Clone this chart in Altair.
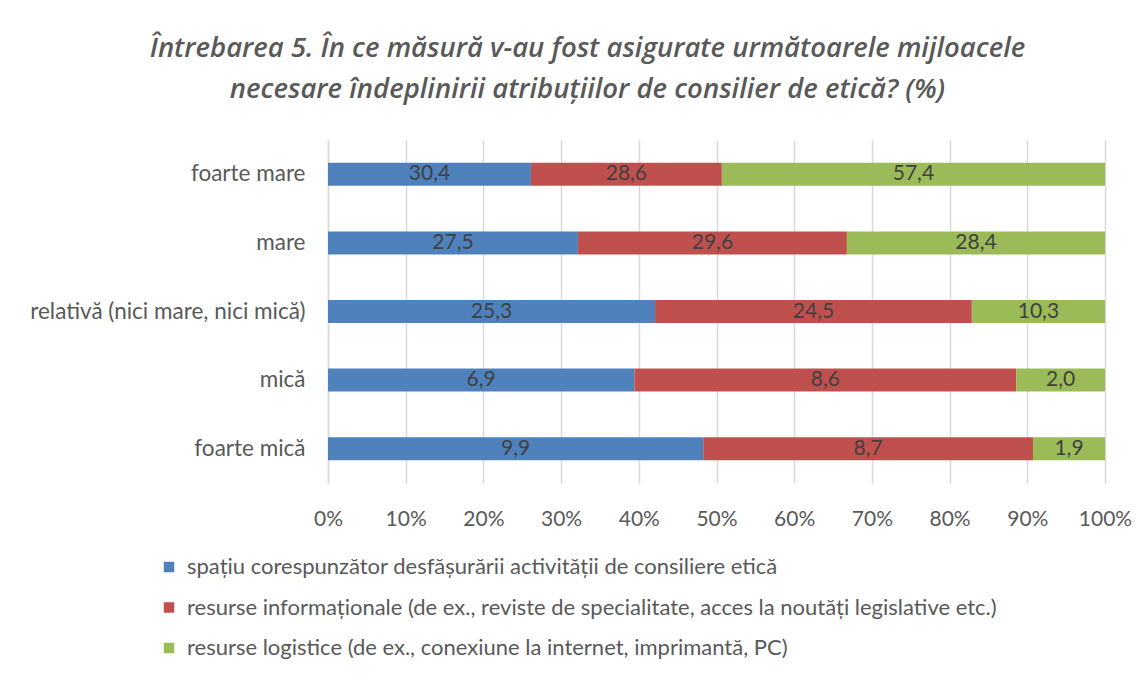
import altair as alt
import pandas as pd

categories = ["foarte mare", "mare", "relativă (nici mare, nici mică)", "mică", "foarte mică"]
series = [
    "spațiu corespunzător desfășurării activității de consiliere etică",
    "resurse informaționale (de ex., reviste de specialitate, acces la noutăți legislative etc.)",
    "resurse logistice (de ex., conexiune la internet, imprimantă, PC)",
]
spatiu = [30.4, 27.5, 25.3, 6.9, 9.9]
informationale = [28.6, 29.6, 24.5, 8.6, 8.7]
logistice = [57.4, 28.4, 10.3, 2.0, 1.9]
colors = ["#4F81BD", "#C0504D", "#9BBB59"]

rows = []
for si, vals in enumerate([spatiu, informationale, logistice]):
    for ci, c in enumerate(categories):
        rows.append({"cat": c, "series": series[si], "order": si, "value": vals[ci],
                     "label": f"{vals[ci]:.1f}".replace(".", ",")})
df = pd.DataFrame(rows)

FONT = "Lato"
GRAY = "#595959"

base = alt.Chart(df).transform_stack(
    stack="value", groupby=["cat"], as_=["v0", "v1"], offset="normalize",
    sort=[alt.SortField("order", order="ascending")]
).transform_calculate(mid="(datum.v0 + datum.v1) / 2")

y_enc = alt.Y("cat:N", sort=categories, title=None,
              scale=alt.Scale(paddingInner=0.665, paddingOuter=0.3325),
              axis=alt.Axis(labelFont=FONT, labelFontSize=22.5, labelColor=GRAY,
                            ticks=False, domain=True, domainColor="#D9D9D9", domainWidth=1.5,
                            labelPadding=23, labelLimit=400, grid=False))

bars = base.mark_bar().encode(
    x=alt.X("v0:Q", scale=alt.Scale(domain=[0, 1]), title=None,
            axis=alt.Axis(format="%", values=[i / 10 for i in range(11)],
                          labelFont=FONT, labelFontSize=21, labelColor=GRAY,
                          labelFlush=False,
                          ticks=False, domain=False, grid=True, gridColor="#D9D9D9",
                          gridWidth=1.5, labelPadding=25)),
    x2="v1:Q",
    y=y_enc,
    color=alt.Color("series:N", sort=series,
                    scale=alt.Scale(domain=series, range=colors),
                    legend=alt.Legend(title=None, orient="none", legendX=-170, legendY=416,
                                      direction="vertical", symbolType="square",
                                      symbolSize=110, symbolStrokeWidth=0,
                                      labelFont=FONT, labelFontSize=22, labelColor=GRAY,
                                      labelLimit=1000, rowPadding=18.5, symbolOffset=0,
                                      labelOffset=7)),
    order=alt.Order("order:Q"),
)

text = base.mark_text(font=FONT, fontSize=21, color="#404040", baseline="middle").encode(
    x=alt.X("mid:Q"),
    y=alt.Y("cat:N", sort=categories),
    text="label:N",
)

chart = (bars + text).properties(
    width=777, height=343,
    autosize=alt.AutoSizeParams(type="none"),
    padding={"left": 320, "top": 132, "right": 33, "bottom": 190},
    title=alt.Title(
        text=["Întrebarea 5. În ce măsură v-au fost asigurate următoarele mijloacele",
              "necesare îndeplinirii atribuțiilor de consilier de etică?   (%)"],
        font="Open Sans", fontSize=27.5, fontStyle="italic", fontWeight=600,
        color=GRAY, anchor="middle", dx=-129, offset=37, lineHeight=41,
    ),
).configure_view(stroke=None)

chart.save("out.html", embed_options={"renderer": "svg", "actions": False})
